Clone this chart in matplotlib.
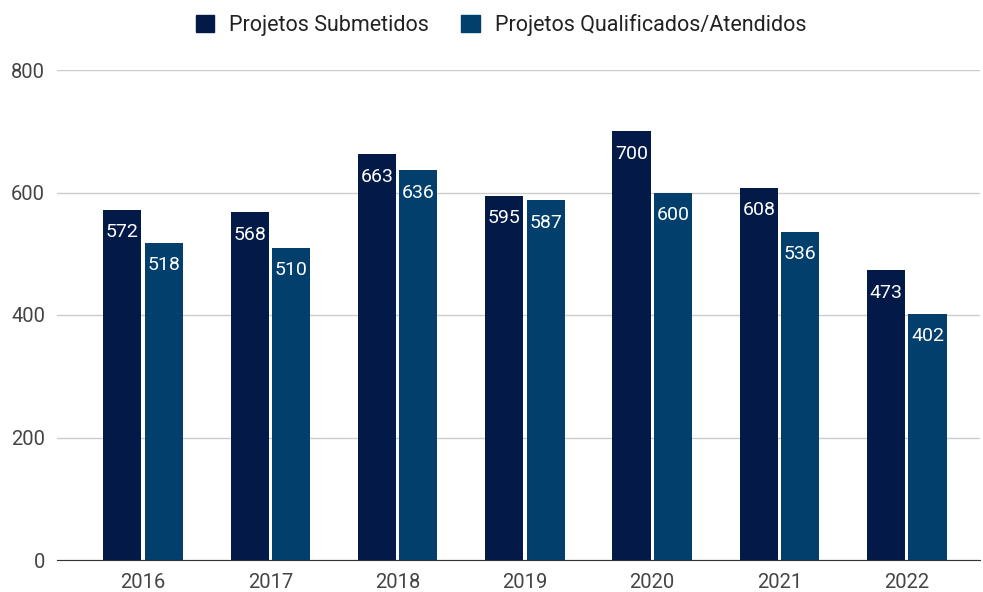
import numpy as np
import matplotlib
matplotlib.use("Agg")
import matplotlib.pyplot as plt
from matplotlib.patches import Patch

# data
years = ["2016", "2017", "2018", "2019", "2020", "2021", "2022"]
submetidos = [572, 568, 663, 595, 700, 608, 473]
qualificados = [518, 510, 636, 587, 600, 536, 402]
series_names = ["Projetos Submetidos", "Projetos Qualificados/Atendidos"]
colors = ["#031a48", "#023f6c"]

plt.rcParams["font.family"] = ["Roboto", "DejaVu Sans"]

fig = plt.figure(figsize=(9.83, 5.92), dpi=100)
ax = fig.add_axes([57 / 983, 1 - 560 / 592, (980 - 57) / 983, 490 / 592])

x = np.arange(len(years))
width = 0.30
offset = 0.163

for vals, dx, col in [(submetidos, -offset, colors[0]), (qualificados, offset, colors[1])]:
    bars = ax.bar(x + dx, vals, width, color=col, zorder=3)
    for b, v in zip(bars, vals):
        ax.text(b.get_x() + b.get_width() / 2, v - 37, str(v), ha="center", va="center",
                color="white", fontsize=14, zorder=4)

ax.set_ylim(0, 800)
ax.set_xlim(-0.676, 6.575)
ax.set_yticks([0, 200, 400, 600, 800])
ax.set_xticks(x)
ax.set_xticklabels(years)
ax.tick_params(axis="both", length=0, labelsize=14.5, labelcolor="#444444")
ax.tick_params(axis="y", pad=8.5)
ax.tick_params(axis="x", pad=9)

ax.grid(axis="y", color="#cccccc", linewidth=1, zorder=0)
for s in ["top", "right", "left"]:
    ax.spines[s].set_visible(False)
ax.spines["bottom"].set_color("#333333")
ax.spines["bottom"].set_zorder(5)

handles = [Patch(facecolor=c, edgecolor=c) for c in colors]
fig.legend(handles, series_names, loc="center", bbox_to_anchor=(501 / 983, 1 - 25 / 592), ncol=2,
           frameon=False, fontsize=15.5, handlelength=0.85, handleheight=0.85,
           columnspacing=1.5, handletextpad=0.7, labelcolor="#222222")

fig.savefig("out.png", dpi=100)
